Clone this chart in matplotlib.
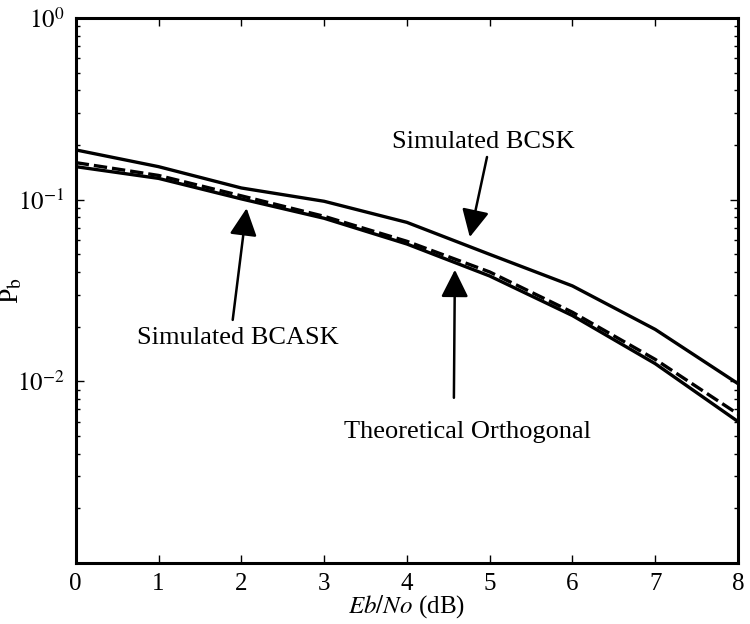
import numpy as np
import matplotlib
matplotlib.use('Agg')

import matplotlib.pyplot as plt
from matplotlib.ticker import LogLocator, NullFormatter, FixedLocator

# Eb/No in dB and bit error probabilities
ebno_db = [0, 1, 2, 3, 4, 5, 6, 7, 8]
pb_bcsk = [0.188, 0.152, 0.116, 0.098, 0.075, 0.050, 0.0335, 0.0193, 0.0097]
pb_bcask = [0.160, 0.136, 0.105, 0.081, 0.059, 0.040, 0.024, 0.0132, 0.0066]
pb_theory = [0.152, 0.131, 0.101, 0.079, 0.057, 0.038, 0.023, 0.0125, 0.0060]

ytick_vals = [1e-2, 1e-1, 1e0]
ytick_labels = [r'$10^{-2}$', r'$10^{-1}$', r'$10^{0}$']


def main():
    plt.rcParams['font.family'] = ['Liberation Serif', 'DejaVu Serif']
    plt.rcParams['mathtext.fontset'] = 'stix'

    fig = plt.figure(figsize=(7.5, 6.24), dpi=100)
    ax = fig.add_axes([0.101, 0.098, 0.883, 0.873])

    ax.plot(ebno_db, pb_bcsk, color='k', lw=2.4)
    ax.plot(ebno_db, pb_bcask, color='k', lw=2.4, ls=(0, (4, 1.5)))
    ax.plot(ebno_db, pb_theory, color='k', lw=2.4)

    ax.set_yscale('log')
    ax.set_xlim(0, 8)
    ax.set_ylim(1e-3, 1)

    ax.set_xticks(range(0, 9))
    ax.yaxis.set_major_locator(FixedLocator(ytick_vals))
    ax.set_yticklabels(ytick_labels)
    ax.yaxis.set_minor_locator(LogLocator(base=10, subs=np.arange(2, 10)))
    ax.yaxis.set_minor_formatter(NullFormatter())

    ax.tick_params(which='both', direction='in', top=True, right=True,
                   labelsize=18, width=1)
    ax.tick_params(which='major', length=6)
    ax.tick_params(which='minor', length=3)
    ax.tick_params(axis='x', pad=7)
    ax.tick_params(axis='y', pad=8)
    for sp in ax.spines.values():
        sp.set_linewidth(2.2)

    ax.set_xlabel(r'$\it{Eb/No}$ (dB)', fontsize=18)
    ax.xaxis.set_label_coords(0.5, -0.055)
    ax.set_ylabel(r'P$_{\mathrm{b}}$', fontsize=20)
    ax.yaxis.set_label_coords(-0.077, 0.5)

    arrow = dict(arrowstyle='-|>,head_length=0.8,head_width=0.4',
                 mutation_scale=21, lw=1.8, color='k', shrinkA=0, shrinkB=0)

    # Simulated BCSK
    ax.annotate('', xy=(0.595, 0.598), xytext=(0.621, 0.745),
                xycoords='axes fraction', arrowprops=arrow)
    ax.text(0.615, 0.773, 'Simulated BCSK', transform=ax.transAxes,
            ha='center', va='center', fontsize=19)

    # Simulated BCASK
    ax.annotate('', xy=(0.258, 0.651), xytext=(0.237, 0.446),
                xycoords='axes fraction', arrowprops=arrow)
    ax.text(0.245, 0.413, 'Simulated BCASK', transform=ax.transAxes,
            ha='center', va='center', fontsize=19)

    # Theoretical Orthogonal
    ax.annotate('', xy=(0.5725, 0.538), xytext=(0.571, 0.303),
                xycoords='axes fraction', arrowprops=arrow)
    ax.text(0.591, 0.240, 'Theoretical Orthogonal', transform=ax.transAxes,
            ha='center', va='center', fontsize=19)

    fig.savefig('out.png', dpi=100)


if __name__ == "__main__":
    main()
